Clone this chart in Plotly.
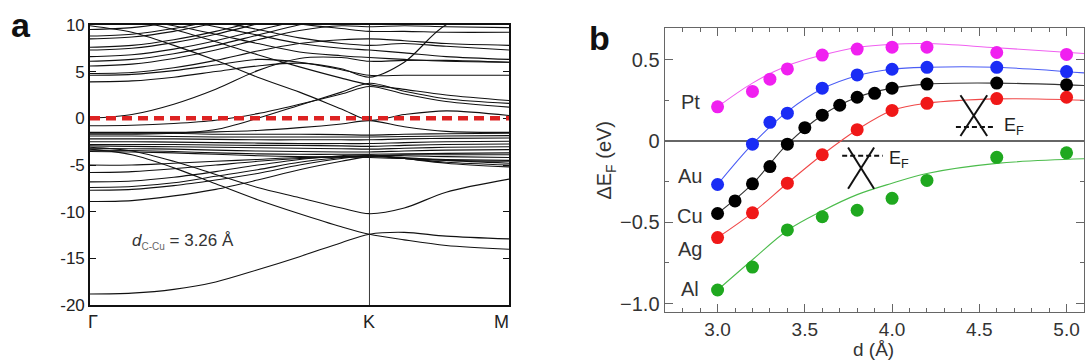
import plotly.graph_objects as go

# ---------------- Panel a : band structure ----------------
K_PTS = [0.0, 0.1, 0.2, 0.3, 0.4, 0.5, 0.6, 0.667, 0.75, 0.85, 1.0]
K_LABELS = ["Γ", "K", "M"]
K_LABEL_POS = [0.0, 0.667, 1.0]
E_TICKS = [-20, -15, -10, -5, 0, 5, 10]
E_TICKTEXT = ["-20", "-15", "-10", "-5", "0", "5", "10"]

BANDS_DEEP = [
    [-18.8, -18.7, -18.3, -17.5, -16.2, -14.8, -13.3, -12.4, -12.2, -12.6, -12.9],
    [-3.3, -3.9, -5.3, -7.0, -8.7, -10.2, -11.6, -12.4, -13.0, -13.6, -14.0],
    [-3.1, -3.5, -4.6, -6.0, -7.4, -8.5, -9.6, -10.2, -9.6, -7.9, -6.5],
]
BANDS_RISING = [
    [-5.0, -5.0, -4.8, -4.6, -4.4, -4.2, -4.1, -4.0, -4.2, -4.5, -4.8],
    [-5.8, -5.7, -5.4, -5.0, -4.6, -4.3, -4.1, -4.0, -4.3, -4.7, -5.0],
    [-6.8, -6.7, -6.3, -5.7, -5.0, -4.4, -4.0, -3.9, -4.3, -4.8, -5.2],
    [-7.4, -7.3, -6.9, -6.2, -5.5, -4.7, -4.2, -4.0, -4.0, -4.1, -4.2],
    [-7.7, -7.6, -7.2, -6.6, -5.9, -5.0, -4.3, -4.0, -3.9, -3.9, -3.9],
    [-8.9, -8.8, -8.3, -7.6, -6.6, -5.5, -4.6, -4.1, -4.3, -4.5, -4.6],
]
BANDS_D_FLAT = [
    [-1.6, -1.6, -1.6, -1.7, -1.7, -1.7, -1.75, -1.8, -1.7, -1.65, -1.6],
    [-1.9, -1.9, -1.95, -2.0, -2.0, -2.0, -2.0, -2.0, -1.95, -1.9, -1.85],
    [-2.2, -2.2, -2.2, -2.25, -2.3, -2.3, -2.3, -2.3, -2.2, -2.15, -2.1],
    [-2.5, -2.5, -2.55, -2.6, -2.65, -2.7, -2.7, -2.7, -2.6, -2.5, -2.45],
    [-2.8, -2.8, -2.8, -2.85, -2.9, -2.9, -2.95, -3.0, -2.9, -2.8, -2.75],
    [-2.95, -3.0, -3.05, -3.1, -3.15, -3.2, -3.25, -3.3, -3.2, -3.1, -3.05],
    [-3.2, -3.25, -3.3, -3.4, -3.5, -3.55, -3.6, -3.6, -3.5, -3.4, -3.35],
    [-3.4, -3.45, -3.55, -3.7, -3.8, -3.85, -3.85, -3.85, -3.8, -3.75, -3.7],
    [-3.55, -3.6, -3.7, -3.85, -4.0, -4.1, -4.15, -4.2, -4.3, -4.4, -4.5],
]
BANDS_NEAR_EF = [
    [-1.5, -1.5, -1.5, -1.45, -1.3, -1.0, -0.6, -0.25, -0.9, -1.4, -1.5],
    [-0.8, -0.75, -0.55, -0.2, 0.5, 1.5, 2.6, 3.4, 2.6, 1.8, 1.2],
    [-1.7, -1.7, -1.6, -1.2, 0.0, 1.4, 2.8, 3.75, 2.9, 2.1, 1.6],
    [9.9, 9.2, 7.8, 6.2, 4.4, 2.8, 1.0, -0.2, 0.4, 0.8, 0.3],
    [0.0, 0.4, 1.5, 3.1, 5.1, 6.4, 6.5, 6.1, 6.2, 6.2, 6.0],
    [11.0, 10.5, 9.5, 8.2, 6.8, 5.5, 4.3, 3.6, 3.1, 2.5, 1.9],
    [3.9, 4.0, 4.4, 5.0, 5.6, 5.9, 5.3, 4.4, 6.0, 10.0, 12.0],
]
BANDS_UPPER = [
    [9.5, 9.7, 10.3, 11.2, 12.0, 12.0, 12.0, 12.0, 12.0, 12.0, 12.0],
    [8.8, 9.0, 9.6, 10.5, 11.5, 12.0, 12.0, 12.0, 12.0, 12.0, 12.0],
    [8.5, 8.7, 9.3, 10.2, 11.2, 12.0, 12.0, 12.0, 12.0, 12.0, 12.0],
    [7.6, 7.8, 8.4, 9.3, 10.4, 11.5, 12.0, 12.0, 12.0, 12.0, 12.0],
    [7.3, 7.5, 8.1, 9.0, 10.1, 11.2, 12.0, 12.0, 12.0, 12.0, 12.0],
    [6.6, 6.8, 7.4, 8.3, 9.4, 10.5, 11.5, 12.0, 12.0, 12.0, 12.0],
    [6.1, 6.3, 6.9, 7.8, 8.9, 10.0, 11.0, 11.5, 12.0, 12.0, 12.0],
    [5.6, 5.8, 6.4, 7.3, 8.4, 9.4, 9.9, 9.8, 9.9, 9.8, 9.7],
    [4.8, 4.9, 5.4, 6.2, 7.2, 8.0, 8.4, 8.5, 8.3, 8.0, 7.8],
    [4.6, 4.7, 5.1, 5.7, 6.3, 6.0, 5.2, 4.6, 4.6, 4.6, 4.6],
    [13.0, 12.5, 12.0, 11.5, 10.8, 10.1, 9.6, 9.3, 9.3, 9.2, 9.2],
    [12.0, 11.8, 11.2, 10.4, 9.5, 8.6, 8.0, 7.8, 8.0, 7.7, 7.3],
    [12.0, 11.5, 10.7, 9.8, 8.9, 8.0, 7.5, 7.3, 7.0, 6.6, 6.3],
    [11.0, 10.6, 9.9, 9.0, 8.0, 7.1, 6.7, 6.5, 6.3, 6.1, 6.0],
]

# ---------------- Panel b : Fermi level shift ----------------
D_SPARSE = [3.0, 3.2, 3.3, 3.4, 3.6, 3.8, 4.0, 4.2, 4.6, 5.0]
PT = [0.209, 0.304, 0.379, 0.442, 0.527, 0.564, 0.576, 0.576, 0.543, 0.531]
AU = [-0.268, -0.02, 0.114, 0.170, 0.324, 0.405, 0.44, 0.452, 0.452, 0.426]
D_CU = [3.0, 3.1, 3.2, 3.3, 3.4, 3.5, 3.6, 3.7, 3.8, 3.9, 4.0, 4.2, 4.6, 5.0]
CU = [-0.446, -0.369, -0.264, -0.158, -0.02, 0.081, 0.158, 0.219, 0.268, 0.292,
      0.324, 0.349, 0.355, 0.345]
D_AG_AL = [3.0, 3.2, 3.4, 3.6, 3.8, 4.0, 4.2, 4.6, 5.0]
AG = [-0.594, -0.442, -0.26, -0.085, 0.069, 0.187, 0.231, 0.26, 0.268]
AL = [-0.916, -0.775, -0.547, -0.466, -0.426, -0.353, -0.243, -0.101, -0.073]

D_FIT = [3.0, 3.2, 3.4, 3.6, 3.8, 4.0, 4.2, 4.6, 5.1]
PT_FIT = [0.209, 0.355, 0.462, 0.527, 0.574, 0.594, 0.598, 0.572, 0.537]
AU_FIT = [-0.268, -0.02, 0.18, 0.32, 0.40, 0.44, 0.452, 0.452, 0.418]
CU_FIT = [-0.446, -0.264, -0.02, 0.158, 0.268, 0.324, 0.349, 0.355, 0.34]
AG_FIT = [-0.594, -0.442, -0.26, -0.085, 0.069, 0.187, 0.231, 0.258, 0.25]
AL_FIT = [-0.916, -0.73, -0.55, -0.43, -0.33, -0.26, -0.20, -0.138, -0.11]

METALS = ["Pt", "Au", "Cu", "Ag", "Al"]
LABEL_Y = [0.238, -0.213, -0.460, -0.666, -0.909]

FONT = "Liberation Sans, Arial, Helvetica, sans-serif"

fig = go.Figure()

for group in (BANDS_DEEP, BANDS_RISING, BANDS_D_FLAT, BANDS_NEAR_EF, BANDS_UPPER):
    for band in group:
        fig.add_trace(go.Scatter(
            x=K_PTS, y=band, mode="lines", xaxis="x", yaxis="y",
            line=dict(color="#111111", width=1.1, shape="spline", smoothing=0.9),
            hoverinfo="skip", showlegend=False))

series = [
    (D_SPARSE, PT, PT_FIT, "#f020f0", "#f060f0"),
    (D_SPARSE, AU, AU_FIT, "#1a2cf5", "#4a5cf5"),
    (D_CU, CU, CU_FIT, "#000000", "#333333"),
    (D_AG_AL, AG, AG_FIT, "#f01818", "#f04848"),
    (D_AG_AL, AL, AL_FIT, "#1fa81f", "#4cbc4c"),
]
for xs, ys, fit, mcol, lcol in series:
    fig.add_trace(go.Scatter(
        x=D_FIT, y=fit, mode="lines", xaxis="x2", yaxis="y2",
        line=dict(color=lcol, width=1.1, shape="spline", smoothing=1.0),
        hoverinfo="skip", showlegend=False))
for xs, ys, fit, mcol, lcol in series:
    fig.add_trace(go.Scatter(
        x=xs, y=ys, mode="markers", xaxis="x2", yaxis="y2",
        marker=dict(color=mcol, size=13, line=dict(width=0)),
        hoverinfo="skip", showlegend=False))

shapes = [
    dict(type="line", xref="x", yref="y", x0=0, x1=1, y0=0, y1=0,
         line=dict(color="#dd2222", width=4.5, dash="10px,6px"), layer="above"),
    dict(type="line", xref="x", yref="y", x0=K_LABEL_POS[1], x1=K_LABEL_POS[1],
         y0=-20, y1=10, line=dict(color="#222222", width=0.9)),
    dict(type="line", xref="x2", yref="y2", x0=4.392, x1=4.545, y0=0.280, y1=0.030,
         line=dict(color="#111111", width=2)),
    dict(type="line", xref="x2", yref="y2", x0=4.545, x1=4.392, y0=0.280, y1=0.030,
         line=dict(color="#111111", width=2)),
    dict(type="line", xref="x2", yref="y2", x0=4.366, x1=4.595, y0=0.085, y1=0.085,
         line=dict(color="#111111", width=2, dash="5px,3px")),
    dict(type="line", xref="x2", yref="y2", x0=3.748, x1=3.897, y0=-0.041, y1=-0.294,
         line=dict(color="#111111", width=2)),
    dict(type="line", xref="x2", yref="y2", x0=3.897, x1=3.748, y0=-0.041, y1=-0.294,
         line=dict(color="#111111", width=2)),
    dict(type="line", xref="x2", yref="y2", x0=3.714, x1=3.947, y0=-0.091, y1=-0.091,
         line=dict(color="#111111", width=2, dash="5px,3px")),
]

def ann(x, y, text, size, xref="paper", yref="paper", color="#222", **kw):
    d = dict(x=x, y=y, xref=xref, yref=yref, text=text, showarrow=False,
             xanchor="center", yanchor="middle",
             font=dict(family=FONT, size=size, color=color))
    d.update(kw)
    return d

annotations = []
for lab, pos in zip(K_LABELS, K_LABEL_POS):
    annotations.append(ann(pos, 1 - 330 / 362, lab, 18, xref="x",
                           xshift=3 if lab == "Γ" else (-8 if lab == "M" else 0)))
annotations += [
    ann(0.222, -13.2,
        "<i>d</i><sub><span style='font-size:10px;color:#666'>C-Cu</span></sub> = 3.26 Å",
        17, xref="x", yref="y", color="#333"),
    ann(21 / 1086, 1 - 17 / 362, "<b>a</b>", 34, color="#111"),
    ann(599 / 1086, 1 - 31 / 362, "<b>b</b>", 34, color="#111"),
    ann(606 / 1086, 1 - 160 / 362, "ΔE<sub>F</sub> (eV)", 20, color="#333", textangle=-90),
    ann(873 / 1086, 1 - 346 / 362, "d (Å)", 19, color="#333", yanchor="top"),
    ann(4.699, 0.091, "E<sub>F</sub>", 18, xref="x2", yref="y2"),
    ann(4.041, -0.112, "E<sub>F</sub>", 18, xref="x2", yref="y2"),
]
for lab, ly in zip(METALS, LABEL_Y):
    annotations.append(ann(2.844, ly, lab, 20, xref="x2", yref="y2", color="#333"))

fig.update_layout(
    width=1086, height=362,
    margin=dict(l=0, r=0, t=0, b=0),
    paper_bgcolor="white", plot_bgcolor="white",
    font=dict(family=FONT),
    showlegend=False,
    xaxis=dict(domain=[90 / 1086, 509 / 1086], range=[0, 1], showgrid=False,
               zeroline=False, showline=True, linecolor="#111", linewidth=1.6,
               mirror=True, ticks="", showticklabels=False, anchor="y"),
    yaxis=dict(domain=[1 - 312.7 / 362, 1 - 16.7 / 362], range=[-20, 10],
               showgrid=False, zeroline=False, showline=True, linecolor="#111",
               linewidth=1.6, mirror="ticks", ticks="inside", ticklen=6,
               tickcolor="#111", tickvals=E_TICKS, ticktext=E_TICKTEXT,
               tickfont=dict(family=FONT, size=17, color="#222"), anchor="x"),
    xaxis2=dict(domain=[664.7 / 1086, 1084 / 1086], range=[2.697, 5.10],
                showgrid=False, zeroline=False, showline=True, linecolor="#666",
                linewidth=1.3, mirror="ticks", ticks="inside", ticklen=8,
                tickcolor="#666", tickvals=[3.0, 3.5, 4.0, 4.5, 5.0],
                ticktext=["3.0", "3.5", "4.0", "4.5", "5.0"],
                minor=dict(dtick=0.1, tick0=3.0, ticks="inside", ticklen=4, tickcolor="#666"),
                tickfont=dict(family=FONT, size=19, color="#333"), anchor="y2"),
    yaxis2=dict(domain=[1 - 319.6 / 362, 1 - 19.8 / 362], range=[-1.05, 0.695],
                showgrid=False, zeroline=True, zerolinecolor="#666", zerolinewidth=1.5,
                showline=True, linecolor="#666", linewidth=1.3, mirror="ticks",
                ticks="inside", ticklen=8, tickcolor="#666",
                tickvals=[-1.0, -0.5, 0.0, 0.5], ticktext=["−1.0", "−0.5", "0", "0.5"],
                minor=dict(dtick=0.25, tick0=0, ticks="inside", ticklen=4, tickcolor="#666"),
                tickfont=dict(family=FONT, size=20, color="#333"), anchor="x2"),
    shapes=shapes,
    annotations=annotations,
)

fig.write_html("out.html")
